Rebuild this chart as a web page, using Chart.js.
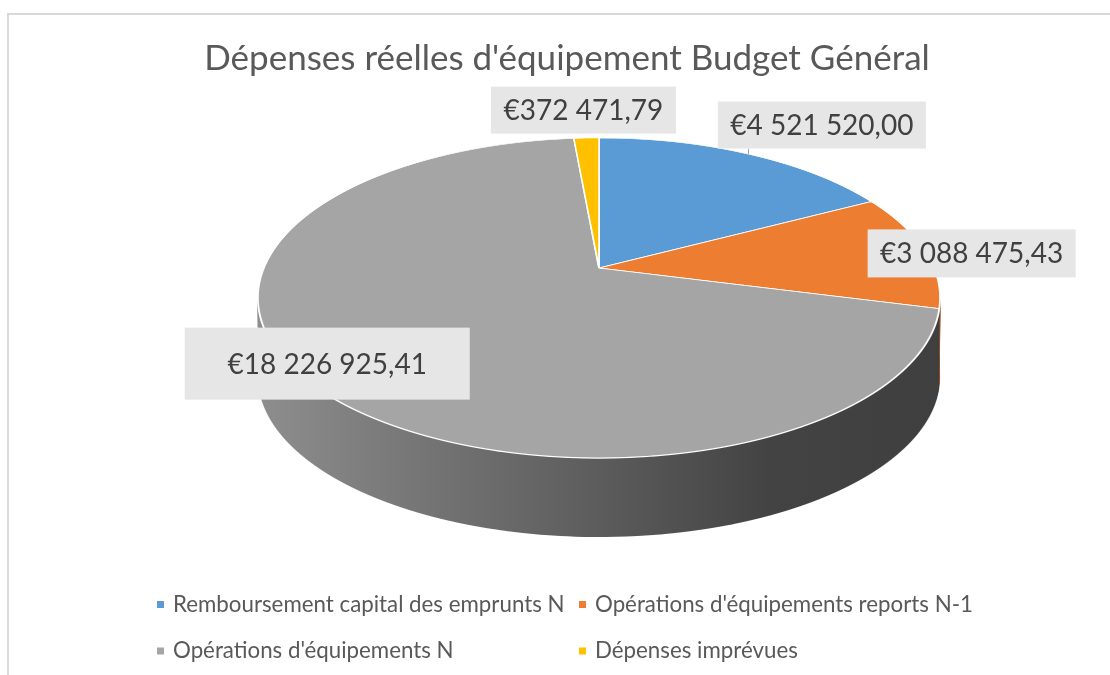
<!DOCTYPE html>
<html>
<head>
<meta charset="utf-8">
<script src="https://cdn.jsdelivr.net/npm/chart.js@4.4.0/dist/chart.umd.min.js"></script>
<style>
  body { margin: 0; background: #fff; }
  #frame { position: absolute; left: 7px; top: 13px; width: 1200px; height: 800px;
           border-top: 2px solid #d9d9d9; border-left: 2px solid #d9d9d9; }
  canvas { position: absolute; left: 0; top: 0; }
</style>
</head>
<body>
<div id="frame"></div>
<canvas id="budgetChart" width="1110" height="675"></canvas>
<script>
// data
const categories = [
  "Remboursement capital des emprunts N",
  "Opérations d'équipements reports N-1",
  "Opérations d'équipements N",
  "Dépenses imprévues"
];
const amounts = [4521520.00, 3088475.43, 18226925.41, 372471.79];

// colours
const sliceColors = ["#5b9bd5", "#ed7d31", "#a5a5a5", "#ffc000"];
const sideShades = [
  ["#4a80b2", "#3a6690"],
  ["#c0652a", "#a0521f"],
  ["#8e8e8e", "#747474", "#5c5c5c", "#434343", "#3f3f3f"],
  ["#cc9a00", "#a67c00"]
];

// tilted pie seen in perspective: apex, half width, half height, perspective, depth
const CX = 599, CY = 268, A = 335, B = 154.4, Q = 0.1875, DEPTH = 79;
const SIDE_LEFT = 258, SIDE_RIGHT = 940;

// data label placement, relative to the rim point at each slice's middle
const labelOffsets = [[74, -29], [47, 3], [19, -18], [-3, -28]];
const labelBoxes = [[208, 47], [208, 48], [285, 72], [185, 47]];
const labelLeaders = [true, false, false, false];

function euro(n) {
  const [ent, dec] = n.toFixed(2).split(".");
  return "€" + ent.replace(/\B(?=(\d{3})+(?!\d))/g, " ") + "," + dec;
}

// t = -1 far edge, 0 apex, 1 near edge
function projY(t) { return CY + B * t / (1 - Q * t); }
function srcT(Y) { const y = (Y - CY) / B; return y / (1 + Q * y); }
function projPoint(angle) {
  const u = Math.cos(angle), t = Math.sin(angle);
  const w = 1 / (1 - Q * t);
  return [CX + A * u * w, CY + B * t * w];
}

// maps the source band under rows ya..yb onto output rows top..bottom
function bandTransform(ctx, a0, ya, yb, top, bottom) {
  const R = a0.outerRadius;
  const ta = srcT(ya), tb = srcT(yb), tm = (ta + tb) / 2;
  const sx = A / (1 - Q * tm) / R;
  const sy = (bottom - top) / ((tb - ta) * R);
  ctx.beginPath();
  ctx.rect(0, top, ctx.canvas.width, bottom - top);
  ctx.clip();
  ctx.translate(CX, top - sy * ta * R);
  ctx.scale(sx, sy);
  ctx.translate(-a0.x, -a0.y);
  return sx;
}

function drawSide(ctx, arcs, a0, sx) {
  const x1 = a0.x + (SIDE_LEFT - CX) / sx, x2 = a0.x + (SIDE_RIGHT - CX) / sx;
  arcs.forEach((arc, i) => {
    const g = ctx.createLinearGradient(x1, 0, x2, 0);
    sideShades[i].forEach((c, k) => g.addColorStop(k / (sideShades[i].length - 1), c));
    const o = arc.options;
    arc.options = Object.assign({}, o, { backgroundColor: g, borderWidth: 0 });
    arc.draw(ctx);
    arc.options = o;
  });
}

const pie3d = {
  id: "pie3d",
  beforeDatasetsDraw(chart) {
    const ctx = chart.ctx;
    const arcs = chart.getDatasetMeta(0).data;
    const a0 = arcs[0];
    const yTop = Math.floor(projY(-1)) - 2, yBot = Math.ceil(projY(1)) + 2;
    const yMid = Math.floor(projY(Q)) - 6;

    // bottom edge of the side: face pushed down by DEPTH
    for (let y = yMid; y < yBot; y++) {
      ctx.save();
      drawSide(ctx, arcs, a0, bandTransform(ctx, a0, y, y + 1, y + DEPTH, y + 1 + DEPTH));
      ctx.restore();
    }
    // wall between top face and bottom edge
    for (let y = yMid; y < yBot; y++) {
      ctx.save();
      drawSide(ctx, arcs, a0, bandTransform(ctx, a0, y, y + 1, y, y + DEPTH));
      ctx.restore();
    }
    // top face, one pixel row at a time
    for (let y = yTop; y < yBot; y++) {
      ctx.save();
      bandTransform(ctx, a0, y, y + 1, y, y + 1);
      arcs.forEach(arc => arc.draw(ctx));
      ctx.restore();
    }
    return false;
  },
  afterDraw(chart) {
    const ctx = chart.ctx;
    const arcs = chart.getDatasetMeta(0).data;

    // data labels
    ctx.save();
    ctx.font = "28px Lato";
    ctx.textAlign = "center";
    ctx.textBaseline = "middle";
    arcs.forEach((arc, i) => {
      const [px, py] = projPoint((arc.startAngle + arc.endAngle) / 2);
      const x = px + labelOffsets[i][0], y = py + labelOffsets[i][1];
      const [w, h] = labelBoxes[i];
      if (labelLeaders[i]) {
        ctx.strokeStyle = "#a6a6a6";
        ctx.lineWidth = 1;
        ctx.beginPath();
        ctx.moveTo(Math.round(px) + 0.5, py);
        ctx.lineTo(Math.round(px) + 0.5, y + h / 2);
        ctx.stroke();
      }
      ctx.fillStyle = "#e7e6e6";
      ctx.fillRect(x - w / 2, y - h / 2, w, h);
      ctx.fillStyle = "#404040";
      ctx.fillText(euro(amounts[i]), x, y + 1);
    });
    ctx.restore();

    // legend in a 2x2 grid
    const cols = [157, 579], rows = [604.5, 651];
    ctx.save();
    ctx.font = "22.3px Lato";
    ctx.textBaseline = "middle";
    categories.forEach((name, i) => {
      const x = cols[i % 2], y = rows[Math.floor(i / 2)];
      ctx.fillStyle = sliceColors[i];
      ctx.fillRect(x, y - 3.5, 7, 7);
      ctx.fillStyle = "#595959";
      ctx.fillText(name, x + 16, y);
    });
    ctx.restore();
  }
};

new Chart(document.getElementById("budgetChart"), {
  type: "pie",
  data: {
    labels: categories,
    datasets: [{
      data: amounts,
      backgroundColor: sliceColors,
      borderColor: "#ffffff",
      borderWidth: 1.5,
      clip: false
    }]
  },
  options: {
    responsive: false,
    animation: false,
    events: [],
    layout: { padding: { left: 24, right: 0, top: 0, bottom: 0 } },
    plugins: {
      legend: { display: false },
      tooltip: { enabled: false },
      title: {
        display: true,
        text: "Dépenses réelles d'équipement Budget Général",
        color: "#595959",
        font: { family: "Lato", size: 35, weight: "normal" },
        padding: { top: 38, bottom: 10 }
      }
    }
  },
  plugins: [pie3d]
});
</script>
</body>
</html>
